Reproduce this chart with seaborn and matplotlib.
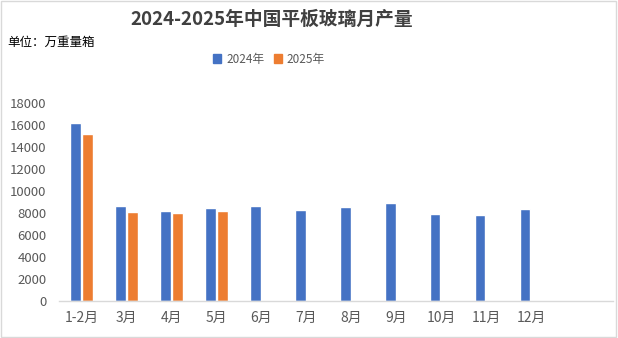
import matplotlib
matplotlib.use("Agg")
import matplotlib.pyplot as plt
import seaborn as sns
import pandas as pd
from matplotlib.patches import Rectangle

categories = ["1-2月", "3月", "4月", "5月", "6月", "7月", "8月", "9月", "10月", "11月", "12月", ""]
values_2024 = [16200, 8640, 8180, 8480, 8640, 8300, 8550, 8900, 7900, 7820, 8360, None]
values_2025 = [15200, 8120, 8030, 8180, None, None, None, None, None, None, None, None]
series_names = ["2024年", "2025年"]
yticks = [0, 2000, 4000, 6000, 8000, 10000, 12000, 14000, 16000, 18000]

sns.set_theme(style="white")
plt.rcParams['font.family'] = ['Noto Sans CJK SC', 'DejaVu Sans']

rows = []
for c, v in zip(categories, values_2024):
    rows.append({"cat": c, "series": series_names[0], "val": v})
for c, v in zip(categories, values_2025):
    rows.append({"cat": c, "series": series_names[1], "val": v})
df = pd.DataFrame(rows)

fig = plt.figure(figsize=(6.18, 3.38), dpi=100)
ax = fig.add_axes([59/618, 1-301/338, (613-59)/618, (301-102.7)/338])

sns.barplot(data=df, x="cat", y="val", hue="series", order=categories,
            hue_order=series_names, palette=["#4472C4", "#ED7D31"],
            width=0.54, gap=0.12, ax=ax, legend=False, saturation=1)

ax.set_ylim(0, 18000)
ax.set_xlim(-0.5, 11.82)
ax.set_yticks(yticks)
ax.set_yticklabels([str(t) for t in yticks])
ax.set_xlabel("")
ax.set_ylabel("")
for s in ["top", "right", "left"]:
    ax.spines[s].set_visible(False)
ax.spines["bottom"].set_color("#d9d9d9")
ax.spines["bottom"].set_linewidth(1)
ax.tick_params(axis="y", length=0, labelsize=9.5, labelcolor="#595959", pad=9)
ax.tick_params(axis="x", length=0, labelsize=10, labelcolor="#595959", pad=7)
ax.grid(False)

fig.text(272/618, 1-19/338, "2024-2025年中国平板玻璃月产量", ha="center", va="center",
         fontsize=13.5, fontweight="bold", color="#404040")
fig.text(7/618, 1-42/338, "单位：万重量箱", ha="left", va="center", fontsize=9, color="#000000")

# legend
handles = [Rectangle((0, 0), 1, 1, color="#4472C4"), Rectangle((0, 0), 1, 1, color="#ED7D31")]
fig.legend(handles, series_names, loc="center", bbox_to_anchor=(269/618, 1-59/338),
           ncol=2, frameon=False, fontsize=8.5, labelcolor="#595959",
           handlelength=0.7, handleheight=0.7, handletextpad=0.4, columnspacing=0.8)

fig.patches.append(Rectangle((0.002, 0.003), 0.995, 0.993, transform=fig.transFigure,
                             fill=False, edgecolor="#d9d9d9", linewidth=1))

fig.savefig("out.png", dpi=100)
